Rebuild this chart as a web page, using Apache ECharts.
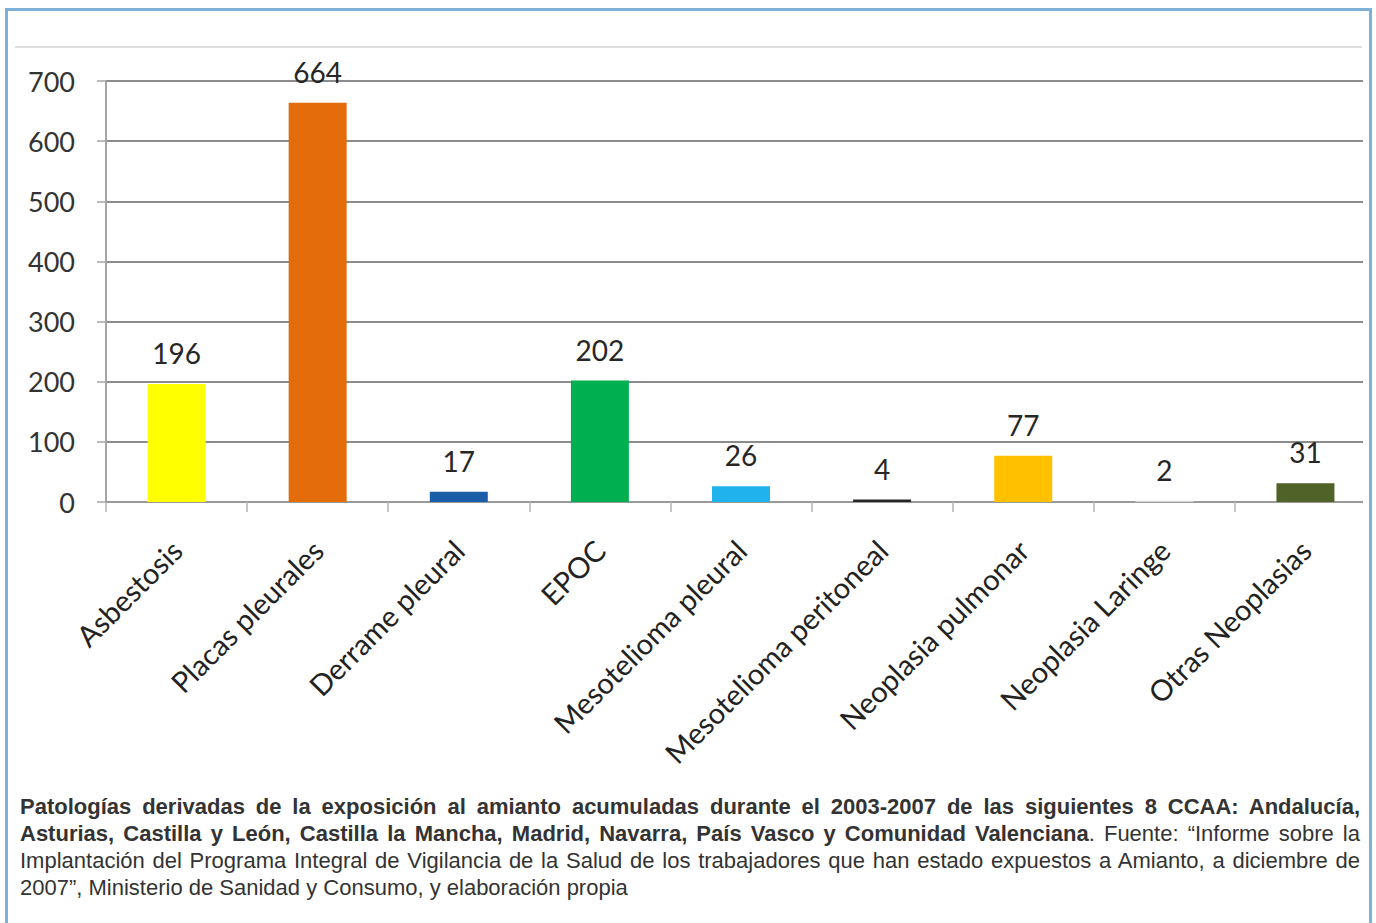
<!DOCTYPE html>
<html lang="es">
<head>
<meta charset="utf-8">
<title>Patologías derivadas de la exposición al amianto</title>
<script src="https://cdn.jsdelivr.net/npm/echarts@6/dist/echarts.min.js"></script>
<style>
  html, body { margin: 0; padding: 0; background: #ffffff; }
  #chart { position: absolute; left: 0; top: 0; width: 1376px; height: 923px; }
  #caption {
    position: absolute; left: 20px; top: 793px; width: 1340px;
    font-family: "Liberation Sans", Arial, sans-serif; font-size: 22px;
    line-height: 27px; color: #333333;
  }
  #caption .ln { text-align: justify; text-align-last: justify; white-space: nowrap; }
  #caption .ln.last { text-align-last: left; }
  #caption b { font-weight: bold; }
</style>
</head>
<body>
<div id="chart"></div>
<div id="caption">
  <div class="ln"><b>Patologías derivadas de la exposición al amianto acumuladas durante el 2003-2007 de las siguientes 8 CCAA: Andalucía,</b></div>
  <div class="ln"><b>Asturias, Castilla y León, Castilla la Mancha, Madrid, Navarra, País Vasco y Comunidad Valenciana</b>. Fuente: “Informe sobre la</div>
  <div class="ln">Implantación del Programa Integral de Vigilancia de la Salud de los trabajadores que han estado expuestos a Amianto, a diciembre de</div>
  <div class="ln last">2007”, Ministerio de Sanidad y Consumo, y elaboración propia</div>
</div>
<script>
// Pathologies and case counts, 2003-2007
const categories = [
  'Asbestosis', 'Placas pleurales', 'Derrame pleural', 'EPOC',
  'Mesotelioma pleural', 'Mesotelioma peritoneal', 'Neoplasia pulmonar',
  'Neoplasia Laringe', 'Otras Neoplasias'
];
const cases = [196, 664, 17, 202, 26, 4, 77, 2, 31];
const barColors = [
  '#ffff00', '#e46c0a', '#1a5ea8', '#00b050',
  '#1fb2ec', '#262626', '#ffc000', '#d9d9d9', '#4f6228'
];
const yMin = 0, yMax = 700, yStep = 100;

const chart = echarts.init(document.getElementById('chart'), null, { renderer: 'svg' });
const chartFont = 'Lato, "Open Sans", sans-serif';

chart.setOption({
  animation: false,
  backgroundColor: '#ffffff',
  grid: { left: 106, top: 81, width: 1281, height: 421, containLabel: false },
  xAxis: {
    type: 'category',
    data: categories,
    axisLine: { show: true, lineStyle: { color: '#9a9a9a', width: 2 } },
    axisTick: { show: true, length: 10, lineStyle: { color: '#b5b5b5', width: 1.5 } },
    axisLabel: {
      interval: 0, rotate: 45, margin: 43,
      fontFamily: chartFont, fontSize: 29, color: '#222222'
    }
  },
  yAxis: {
    type: 'value',
    min: yMin, max: yMax, interval: yStep,
    axisLine: { show: true, lineStyle: { color: '#a5a5a5', width: 2 } },
    axisTick: { show: true, length: 9, lineStyle: { color: '#a5a5a5', width: 1.5 } },
    splitLine: { show: true, lineStyle: { color: '#8c8c8c', width: 2 } },
    axisLabel: { margin: 31, fontFamily: chartFont, fontSize: 27, color: '#333333' }
  },
  series: [{
    type: 'bar',
    barWidth: 58,
    data: cases.map((v, i) => ({ value: v, itemStyle: { color: barColors[i] } })),
    label: {
      show: true, position: 'top', distance: 17,
      fontFamily: chartFont, fontSize: 28, color: '#262626'
    }
  }],
  graphic: [
    // light rule along the top of the plot frame
    { type: 'line', z: 90, shape: { x1: 15, y1: 47, x2: 1362, y2: 47 },
      style: { stroke: '#dedede', lineWidth: 2 } },
    // trims the plot on the right edge of the frame
    { type: 'rect', z: 95, shape: { x: 1363, y: 20, width: 13, height: 760 },
      style: { fill: '#ffffff' } },
    // outer frame
    { type: 'rect', z: 100, shape: { x: 6.5, y: 9.5, width: 1364, height: 940 },
      style: { fill: 'none', stroke: '#7fb1d8', lineWidth: 3 } }
  ]
});
</script>
</body>
</html>
